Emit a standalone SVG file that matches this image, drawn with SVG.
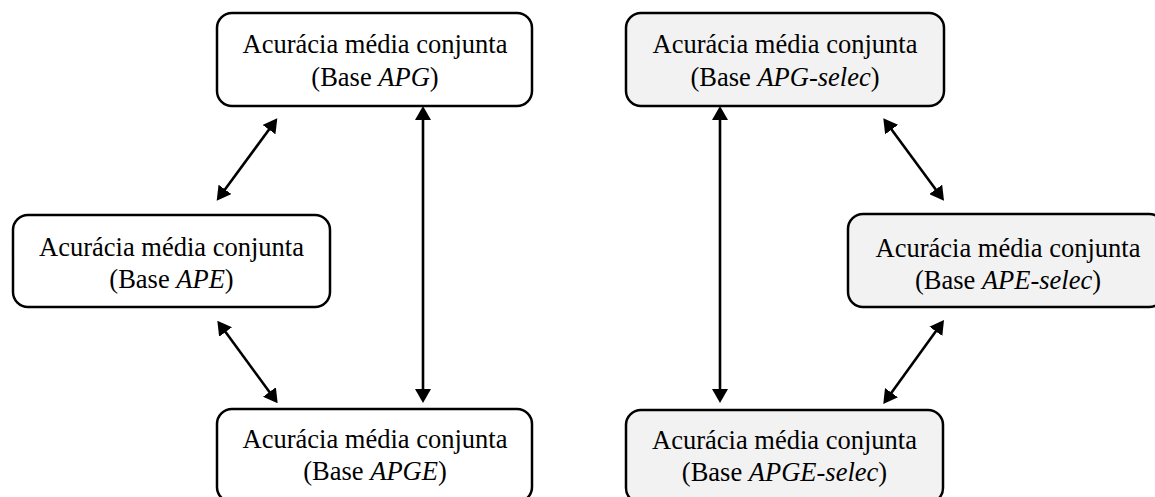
<svg xmlns="http://www.w3.org/2000/svg" width="1155" height="497" viewBox="0 0 1155 497">
<style>
.box{stroke:#000;stroke-width:2.5;fill:#fff}
.sel{fill:#f2f2f2}
.t{font-family:"Liberation Serif","Times New Roman",serif;font-size:26.5px;fill:#000;text-anchor:middle}
.i{font-style:italic}
.c{stroke:#000;stroke-width:2.6;fill:none;marker-start:url(#ah);marker-end:url(#ah)}
</style>
<defs>
<marker id="ah" viewBox="0 0 14 16" refX="1" refY="8" markerWidth="14" markerHeight="16" markerUnits="userSpaceOnUse" orient="auto-start-reverse">
<path d="M0,0 L14,8 L0,16 z" fill="#000"/>
</marker>
</defs>
<rect width="1155" height="497" fill="#fff"/>
<g id="connectors">
<line class="c" x1="423" y1="119" x2="423" y2="390"/>
<line class="c" x1="269.6" y1="128.8" x2="224.4" y2="190.2"/>
<line class="c" x1="225" y1="331.2" x2="270" y2="392.8"/>
<line class="c" x1="720" y1="119" x2="720" y2="390"/>
<line class="c" x1="891" y1="128.8" x2="936.3" y2="190.2"/>
<line class="c" x1="936.4" y1="330.5" x2="890.9" y2="393.5"/>
</g>
<g id="apg">
<rect class="box" x="217" y="13" width="315" height="93" rx="15"/>
<text class="t" x="375" y="53">Acurácia média conjunta</text>
<text class="t" x="375" y="86">(Base <tspan class="i">APG</tspan>)</text>
</g>
<g id="ape">
<rect class="box" x="13" y="215" width="317" height="92" rx="15"/>
<text class="t" x="171.5" y="256">Acurácia média conjunta</text>
<text class="t" x="171.5" y="288">(Base <tspan class="i">APE</tspan>)</text>
</g>
<g id="apge">
<rect class="box" x="217" y="409" width="315" height="93" rx="15"/>
<text class="t" x="375" y="448">Acurácia média conjunta</text>
<text class="t" x="375" y="480">(Base <tspan class="i">APGE</tspan>)</text>
</g>
<g id="apg-selec">
<rect class="box sel" x="626" y="13" width="318" height="93" rx="15"/>
<text class="t" x="785" y="53">Acurácia média conjunta</text>
<text class="t" x="785" y="86">(Base <tspan class="i">APG-selec</tspan>)</text>
</g>
<g id="ape-selec">
<rect class="box sel" x="848" y="214" width="316" height="93" rx="15"/>
<text class="t" x="1008" y="257">Acurácia média conjunta</text>
<text class="t" x="1008" y="289">(Base <tspan class="i">APE-selec</tspan>)</text>
</g>
<g id="apge-selec">
<rect class="box sel" x="626" y="410" width="317" height="93" rx="15"/>
<text class="t" x="784.5" y="449">Acurácia média conjunta</text>
<text class="t" x="784.5" y="481">(Base <tspan class="i">APGE-selec</tspan>)</text>
</g>
</svg>
